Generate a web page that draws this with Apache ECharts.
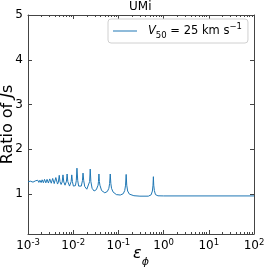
<!DOCTYPE html>
<html><head><meta charset="utf-8">
<script src="https://cdn.jsdelivr.net/npm/echarts@6/dist/echarts.min.js"></script>
<style>html,body{margin:0;padding:0;background:#fff}#c{width:267px;height:268px}</style>
</head><body><div id="c"></div>
<script>
// epsilon_phi values (x) and ratio of Js (y)
var epsValues = [0.001,0.001031,0.00108,0.001123,0.00118,0.001227,0.00129,0.001347,0.00142,0.001485,0.00157,0.001645,0.00174,0.001833,0.00195,0.002055,0.00219,0.00232,0.00248,0.00264,0.00283,0.00303,0.00327,0.003515,0.0038,0.004125,0.0045,0.0047,0.00491,0.0051,0.0054,0.0057,0.00594,0.0062,0.0066,0.0071,0.00733,0.0076,0.0083,0.009,0.0093,0.0096,0.0101,0.0107,0.0112,0.0117,0.0121,0.0126,0.0132,0.014,0.0151,0.016,0.0165,0.0171,0.018,0.02,0.0215,0.0231,0.0238,0.0246,0.0262,0.029,0.0325,0.0355,0.0362,0.0371,0.038,0.039,0.0425,0.05,0.057,0.0615,0.064,0.066,0.068,0.0705,0.076,0.09,0.11,0.128,0.138,0.144,0.1485,0.153,0.16,0.175,0.22,0.3,0.46,0.53,0.565,0.583,0.594,0.605,0.625,0.66,0.75,1.0,100];
var ratioValues = [1.275,1.29,1.27,1.29,1.27,1.29,1.268,1.30,1.266,1.30,1.264,1.31,1.262,1.31,1.258,1.32,1.255,1.33,1.252,1.33,1.248,1.34,1.244,1.35,1.236,1.37,1.225,1.27,1.42,1.28,1.215,1.27,1.43,1.27,1.2,1.29,1.45,1.28,1.18,1.28,1.43,1.28,1.18,1.16,1.19,1.3,1.58,1.3,1.18,1.14,1.18,1.3,1.47,1.3,1.17,1.11,1.15,1.28,1.56,1.28,1.13,1.07,1.1,1.2,1.28,1.45,1.28,1.2,1.08,1.03,1.06,1.13,1.24,1.45,1.24,1.13,1.05,0.99,0.98,1.01,1.08,1.2,1.44,1.2,1.07,1.0,0.965,0.955,0.955,0.985,1.07,1.2,1.39,1.2,1.08,0.99,0.963,0.96,0.96];
var yTicks = [1,2,3,4,5];
var xMinorTicks = [0.002,0.003,0.004,0.005,0.006,0.007,0.008,0.009,0.02,0.03,0.04,0.05,0.06,0.07,0.08,0.09,0.2,0.3,0.4,0.5,0.6,0.7,0.8,0.9,2,3,4,5,6,7,8,9,20,30,40,50,60,70,80,90];
var seriesName = 'V50 = 25 km s-1';

var data = epsValues.map(function(e,i){return [e, ratioValues[i]];});
var font = 'DejaVu Sans';
var axisCol = '#444';
var chart = echarts.init(document.getElementById('c'), null, {renderer:'canvas'});
var xBase = {type:'log', logBase:10, min:0.001, max:100};
chart.setOption({
  animation:false,
  textStyle:{fontFamily:font},
  title:{text:'UMi', left:129, top:0, padding:[1,0,0,0], textStyle:{fontSize:12, fontWeight:'normal', color:'#000', fontFamily:font}},
  grid:{left:28, right:13, top:15, bottom:34, containLabel:false, outerBoundsMode:'none'},
  legend:{
    left:108, top:19, padding:[3,6,3,5], itemWidth:24, itemHeight:10, itemGap:0,
    backgroundColor:'#fff', borderColor:'#d0d0d0', borderWidth:1, borderRadius:3,
    data:[{name:seriesName, icon:'path://M0,5 L24,5 L24,6 L0,6 Z'}],
    formatter:function(){return '{i|V}{sub|50}{n| = 25 km s}{sup|−1}';},
    textStyle:{color:'#000', fontFamily:font, fontSize:11.5, lineHeight:18, padding:[0,0,0,6],
      rich:{
        i:{fontStyle:'italic', fontSize:11.5, fontFamily:font, lineHeight:18},
        n:{fontSize:11.5, fontFamily:font, lineHeight:18},
        sub:{fontSize:8.5, fontFamily:font, verticalAlign:'bottom', lineHeight:18, padding:[3,0,0,0]},
        sup:{fontSize:8.5, fontFamily:font, verticalAlign:'top', lineHeight:18}
      }}
  },
  xAxis:[
    Object.assign({}, xBase, {
      position:'bottom',
      name:'{i|ε}{s|ϕ}', nameLocation:'middle', nameGap:12, nameMoveOverlap:false,
      nameTextStyle:{rich:{i:{fontStyle:'italic', fontSize:16, fontFamily:font, color:'#000'}, s:{fontStyle:'italic', fontSize:11, fontFamily:font, color:'#000', verticalAlign:'bottom', padding:[0,0,-6,0]}}},
      axisLine:{lineStyle:{color:axisCol, width:1}},
      axisTick:{inside:true, length:4, lineStyle:{color:axisCol}},
      axisLabel:{margin:4, color:'#000', fontFamily:font, fontSize:12,
        formatter:function(v){return '10{s|'+Math.round(Math.log10(v))+'}';},
        rich:{s:{fontSize:8.5, fontFamily:font, color:'#000', verticalAlign:'top', padding:[0,0,6,0]}}},
      splitLine:{show:false}
    }),
    Object.assign({}, xBase, {
      position:'top',
      axisLine:{lineStyle:{color:axisCol, width:1}},
      axisTick:{inside:true, length:4, lineStyle:{color:axisCol}},
      axisLabel:{show:false}, splitLine:{show:false}
    }),
    Object.assign({}, xBase, {
      position:'bottom', axisLine:{show:false},
      axisTick:{inside:true, length:2, customValues:xMinorTicks, lineStyle:{color:axisCol}},
      axisLabel:{show:false}, splitLine:{show:false}
    }),
    Object.assign({}, xBase, {
      position:'top', axisLine:{show:false},
      axisTick:{inside:true, length:2, customValues:xMinorTicks, lineStyle:{color:axisCol}},
      axisLabel:{show:false}, splitLine:{show:false}
    })
  ],
  yAxis:[
    {type:'value', min:0.11, max:5, position:'left',
     name:'{n|Ratio of }{i|J}{n|s}', nameLocation:'middle', nameRotate:90, nameGap:12, nameMoveOverlap:false,
     nameTextStyle:{rich:{n:{fontSize:16, fontFamily:font, color:'#000'}, i:{fontSize:16, fontStyle:'italic', fontFamily:font, color:'#000'}}},
     axisLine:{show:true, lineStyle:{color:axisCol, width:1}},
     axisTick:{show:true, inside:true, length:4, customValues:yTicks, lineStyle:{color:axisCol}},
     axisLabel:{margin:5, color:'#000', fontFamily:font, fontSize:12, customValues:yTicks},
     splitLine:{show:false}},
    {type:'value', min:0.11, max:5, position:'right',
     axisLine:{show:true, lineStyle:{color:axisCol, width:1}},
     axisTick:{show:true, inside:true, length:4, customValues:yTicks, lineStyle:{color:axisCol}},
     axisLabel:{show:false}, splitLine:{show:false}}
  ],
  series:[{
    name:seriesName, type:'line', data:data, xAxisIndex:0, yAxisIndex:0,
    symbol:'none', showSymbol:false, smooth:false,
    lineStyle:{color:'#1f77b4', width:1}, itemStyle:{color:'#1f77b4'}
  }]
});
</script></body></html>
